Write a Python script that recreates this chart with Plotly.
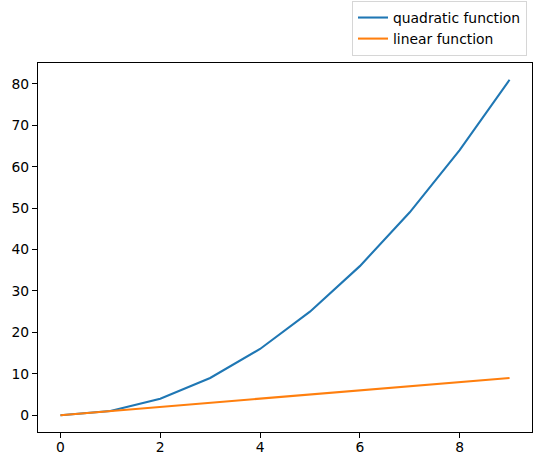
import plotly.graph_objects as go

x_values = [0, 1, 2, 3, 4, 5, 6, 7, 8, 9]
quadratic_values = [0, 1, 4, 9, 16, 25, 36, 49, 64, 81]
linear_values = [0, 1, 2, 3, 4, 5, 6, 7, 8, 9]
series_names = ["quadratic function", "linear function"]
x_ticks = [0, 2, 4, 6, 8]
y_ticks = [0, 10, 20, 30, 40, 50, 60, 70, 80]

fig = go.Figure()
fig.add_trace(go.Scatter(x=x_values, y=quadratic_values, mode="lines", name=series_names[0],
                         line=dict(color="#1f77b4", width=2.08)))
fig.add_trace(go.Scatter(x=x_values, y=linear_values, mode="lines", name=series_names[1],
                         line=dict(color="#ff7f0e", width=2.08)))

font = dict(family="DejaVu Sans", size=13.89, color="black")
axis_common = dict(showgrid=False, zeroline=False, showline=True, linecolor="black", linewidth=1.1,
                   mirror=True, ticks="outside", ticklen=5, tickwidth=1.1, tickcolor="black",
                   tickfont=font, automargin=False)
fig.update_layout(
    width=543, height=466,
    margin=dict(l=38, r=11, t=63, b=34, autoexpand=False),
    paper_bgcolor="white", plot_bgcolor="white",
    font=font,
    xaxis=dict(range=[-0.45, 9.45], tickvals=x_ticks, ticklabelstandoff=-3, **axis_common),
    yaxis=dict(range=[-4.05, 85.05], tickvals=y_ticks, **axis_common),
    legend=dict(x=(527 - 38) / 494, xanchor="right", y=(432 - 56) / 369, yanchor="bottom",
                bordercolor="#d6d6d6", borderwidth=1, bgcolor="white",
                font=font, itemwidth=30),
    showlegend=True,
)
fig.write_html("out.html", config={"displayModeBar": False},
               post_script="document.body.style.margin='0px';")
